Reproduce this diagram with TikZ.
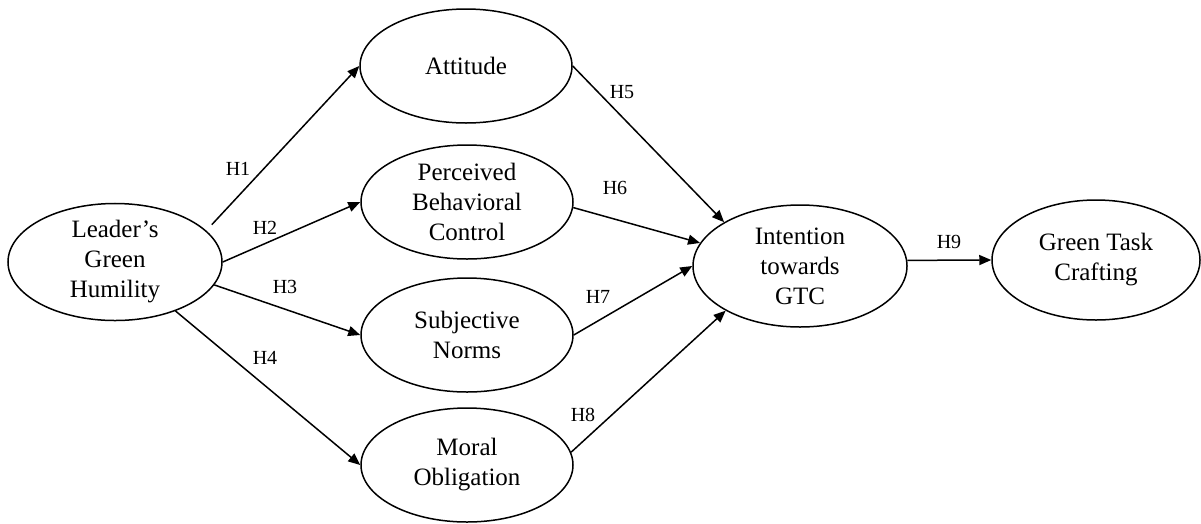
\documentclass[tikz,border=0pt]{standalone}
\usepackage{fontspec}
\setmainfont{Liberation Serif}
\usepackage{tikz}
\usetikzlibrary{arrows.meta, shapes.geometric}

\begin{document}
\begin{tikzpicture}[
  x=1pt, y=-1pt,
  construct/.style={ellipse, draw, line width=1.5pt, inner sep=0pt,
                    align=center, minimum width=212pt, minimum height=114pt,
                    font=\fontsize{25}{30}\selectfont},
  hyp/.style={font=\fontsize{20}{23}\selectfont, inner sep=0pt},
  arr/.style={-{Triangle[length=12pt, width=10pt]}, line width=1.5pt}
]
\useasboundingbox (0,0) rectangle (1201,523);

% constructs
\node[construct, minimum width=214pt] (lgh) at (115,262) {Leader's\\Green\\Humility};
\node[construct] (att) at (466,66) {Attitude};
\node[construct] (pbc) at (467,202) {Perceived\\Behavioral\\Control};
\node[construct] (sn)  at (467,335) {Subjective\\Norms};
\node[construct] (mo)  at (467,465) {Moral\\Obligation};
\node[construct, minimum width=214pt, minimum height=122pt] (itc) at (800,266) {Intention\\towards\\GTC};
\node[construct, minimum width=208pt, minimum height=120pt] (gtc) at (1096,260) {Green Task\\Crafting};

% paths
\draw[arr, shorten <=8pt] (lgh.19) -- (att.west);
\draw[arr] (lgh.east) -- (pbc.west);
\draw[arr] (lgh.-13) -- (sn.west);
\draw[arr] (lgh.-39) -- (mo.west);
\draw[arr] (att.east) -- (itc.150);
\draw[arr] (pbc.-3) -- (itc.167);
\draw[arr] (sn.east) -- (itc.west);
\draw[arr] (mo.7) -- (itc.211);
\draw[arr] (itc.3) -- (gtc.west);

% hypothesis labels
\node[hyp] (h1) at (238,169) {H1};
\node[hyp] (h2) at (265,228) {H2};
\node[hyp] (h3) at (285,287) {H3};
\node[hyp] (h4) at (265,358) {H4};
\node[hyp] (h5) at (622,92) {H5};
\node[hyp] (h6) at (615,188) {H6};
\node[hyp] (h7) at (598,297) {H7};
\node[hyp] (h8) at (583,415) {H8};
\node[hyp] (h9) at (949,242) {H9};

\end{tikzpicture}
\end{document}
